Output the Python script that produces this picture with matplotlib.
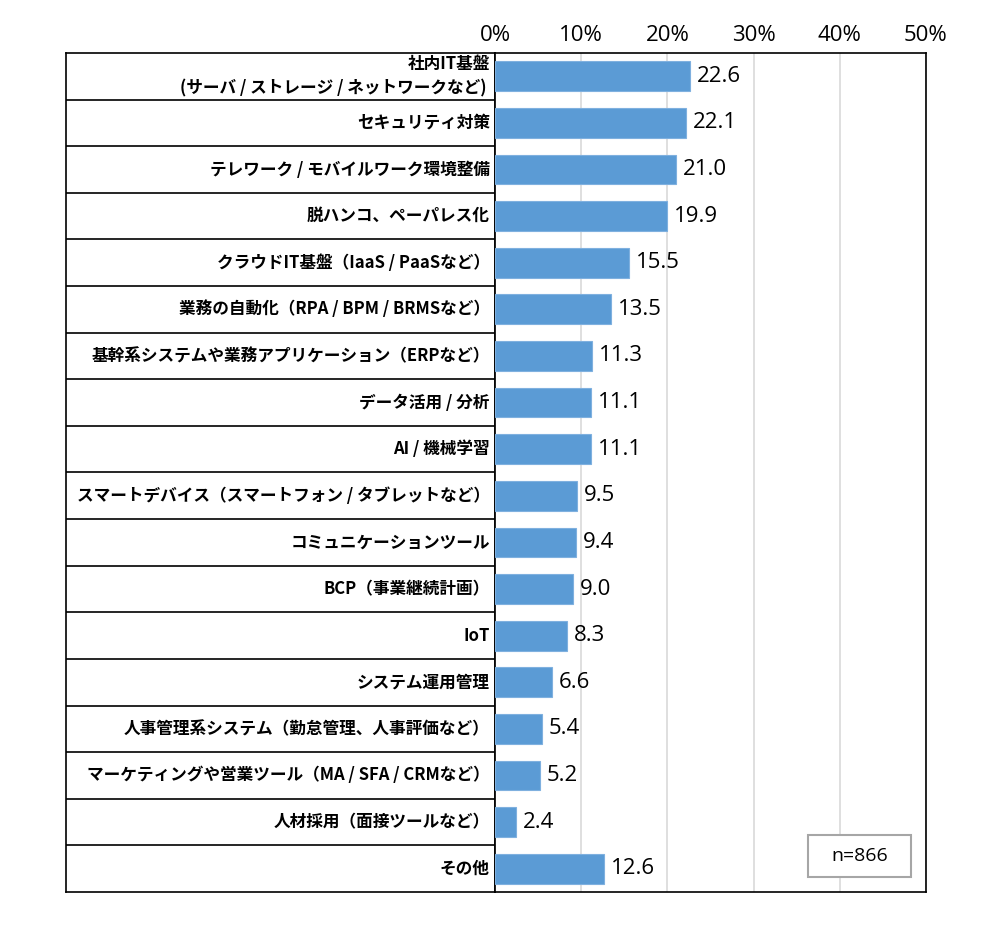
import matplotlib.pyplot as plt
import matplotlib.patches as mpatches

plt.rcParams['font.family'] = ['Noto Sans CJK JP', 'DejaVu Sans']

labels = [
    '社内IT基盤\n(サーバ / ストレージ / ネットワークなど) ',
    'セキュリティ対策',
    'テレワーク / モバイルワーク環境整備',
    '脱ハンコ、ペーパレス化',
    'クラウドIT基盤（IaaS / PaaSなど）',
    '業務の自動化（RPA / BPM / BRMSなど）',
    '基幹系システムや業務アプリケーション（ERPなど）',
    'データ活用 / 分析',
    'AI / 機械学習',
    'スマートデバイス（スマートフォン / タブレットなど）',
    'コミュニケーションツール',
    'BCP（事業継続計画）',
    'IoT',
    'システム運用管理',
    '人事管理系システム（勤怠管理、人事評価など）',
    'マーケティングや営業ツール（MA / SFA / CRMなど）',
    '人材採用（面接ツールなど）',
    'その他',
]
values = [22.6, 22.1, 21.0, 19.9, 15.5, 13.5, 11.3, 11.1, 11.1,
          9.5, 9.4, 9.0, 8.3, 6.6, 5.4, 5.2, 2.4, 12.6]
xticks = [0, 10, 20, 30, 40, 50]
n_text = 'n=866'

n = len(values)
fig = plt.figure(figsize=(10, 9.31), dpi=100)
bottom = 1 - 892 / 931
height = 839 / 931

# label box on the left
lab = fig.add_axes([0.066, bottom, 0.429, height])
lab.set_xlim(0, 1)
lab.set_ylim(n - 0.5, -0.5)
lab.set_xticks([])
lab.set_yticks([])
for s in lab.spines.values():
    s.set_color('black')
    s.set_linewidth(1.2)
for i in range(n - 1):
    lab.axhline(i + 0.5, color='black', lw=1.2)
for i, t in enumerate(labels):
    lab.text(0.988, i, t, ha='right', va='center', multialignment='right',
             fontsize=12, fontweight='bold', linespacing=1.4)

# bars
ax = fig.add_axes([0.495, bottom, 0.431, height])
ys = list(range(n))
ax.barh(ys, values, height=0.64, color='#5B9BD5', edgecolor='#7FB0DF', lw=0.8, zorder=3)
ax.set_xlim(0, 50)
ax.set_ylim(n - 0.5, -0.5)
ax.set_yticks([])
ax.set_xticks(xticks)
ax.set_xticklabels([f'{x}%' for x in xticks], fontsize=16, family=['Open Sans', 'DejaVu Sans'])
ax.xaxis.tick_top()
ax.tick_params(axis='x', length=0, pad=5)
ax.grid(axis='x', color='#D9D9D9', lw=1.2, zorder=0)
for s in ax.spines.values():
    s.set_color('black')
    s.set_linewidth(1.2)

for y, v in zip(ys, values):
    ax.annotate(f'{v:.1f}', (v, y), xytext=(5, 0), textcoords='offset points',
                ha='left', va='center', fontsize=16, family=['Open Sans', 'DejaVu Sans'])

# n box
ax.add_patch(mpatches.Rectangle((0.726, 0.018), 0.239, 0.05, transform=ax.transAxes,
                                facecolor='white', edgecolor='#A6A6A6', lw=1.5, zorder=4))
ax.text(0.8455, 0.043, n_text, transform=ax.transAxes, ha='center', va='center',
        fontsize=14, family=['Open Sans', 'DejaVu Sans'], zorder=5)

fig.savefig('out.png')
